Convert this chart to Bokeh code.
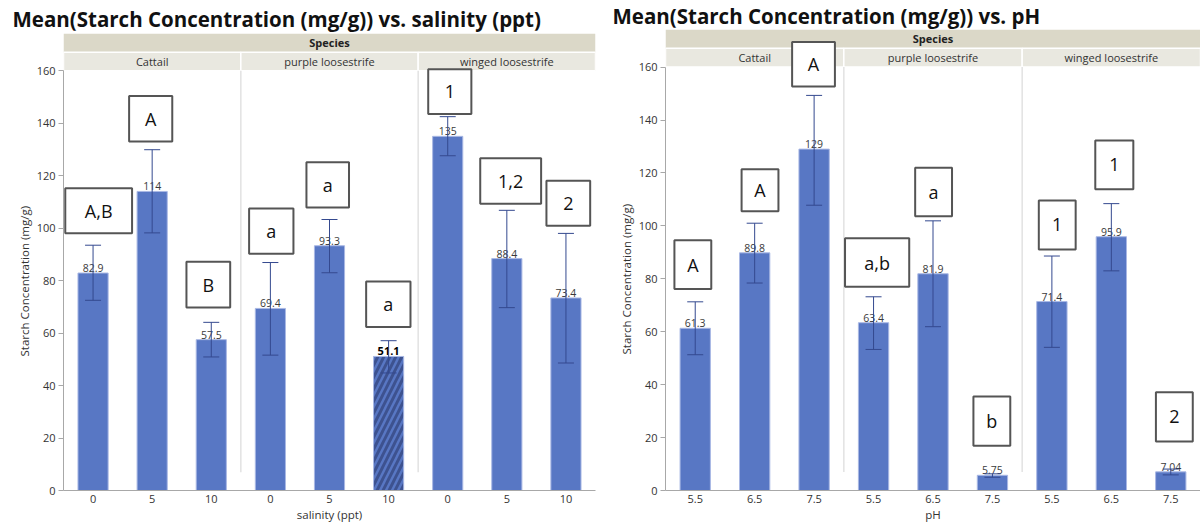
from bokeh.plotting import figure
from bokeh.models import FixedTicker, Range1d, ColumnDataSource, Whisker, TeeHead, Title
from bokeh.layouts import row
from bokeh.embed import file_html
from bokeh.resources import INLINE
from bokeh.core.properties import value

# ---------------- data ----------------
species = ["Cattail", "purple loosestrife", "winged loosestrife"]

salinity_levels = ["0", "5", "10"]
sal_mean = [82.9, 114, 57.5, 69.4, 93.3, 51.1, 135, 88.4, 73.4]
sal_labels = ["82.9", "114", "57.5", "69.4", "93.3", "51.1", "135", "88.4", "73.4"]
sal_err_low = [72.5, 98.2, 50.9, 51.6, 83.0, 44.8, 127.6, 69.7, 48.6]
sal_err_high = [93.5, 129.9, 64.1, 86.9, 103.3, 57.1, 142.5, 106.8, 98.0]
sal_letters = ["A,B", "A", "B", "a", "a", "a", "1", "1,2", "2"]

ph_levels = ["5.5", "6.5", "7.5"]
ph_mean = [61.3, 89.8, 129, 63.4, 81.9, 5.75, 71.4, 95.9, 7.04]
ph_labels = ["61.3", "89.8", "129", "63.4", "81.9", "5.75", "71.4", "95.9", "7.04"]
ph_err_low = [51.3, 78.4, 107.8, 53.3, 61.9, 5.0, 54.1, 83.0, 5.9]
ph_err_high = [71.3, 101.0, 149.3, 73.2, 101.9, 6.3, 88.6, 108.4, 8.1]
ph_letters = ["A", "A", "A", "a,b", "a", "b", "1", "1", "2"]

y_ticks = [0, 20, 40, 60, 80, 100, 120, 140, 160]

# ---------------- layout of letter boxes (annotation placement) ----------------
sal_box_lr = [(0.03, 1.16), (1.11, 1.84), (2.08, 2.82), (3.14, 3.89), (4.11, 4.83),
              (5.12, 5.87), (6.17, 6.90), (7.05, 8.08), (8.17, 8.91)]
sal_box_bt = [(98.1, 115.2), (133.0, 150.4), (69.8, 87.2), (90.2, 107.5), (107.9, 125.1),
              (62.3, 79.7), (143.5, 160.6), (109.3, 126.6), (100.9, 118.1)]
ph_box_lr = [(0.15, 0.77), (1.28, 1.90), (2.13, 2.85), (3.02, 4.10), (4.20, 4.82),
             (5.18, 5.80), (6.28, 6.90), (7.23, 7.87), (8.25, 8.87)]
ph_box_bt = [(76.1, 94.6), (105.5, 121.4), (152.7, 169.5), (77.0, 95.3), (103.6, 122.0),
             (16.9, 35.5), (91.1, 109.6), (113.8, 132.3), (18.5, 37.1)]

FONT = "Open Sans"
BAR_FILL = "#5877c4"
BAR_LINE = "#a9b8e4"
ERR = "#34498f"
TXT = "#333333"
AXIS = "#a8a8a8"
YTOP = 174.2


def make_chart(title_text, levels, xlabel, means, labels, lo, hi, letters,
               box_lr, box_bt, width, height, bl, br, bt, title_offset, title_standoff,
               ylabel_offset, hatched=None):
    n = len(means)
    xs = [i + 0.5 for i in range(n)]
    p = figure(width=width, height=height, output_backend="svg", toolbar_location=None,
               x_range=Range1d(0, n), y_range=Range1d(0, YTOP),
               min_border_left=bl, min_border_right=br, min_border_top=bt,
               min_border_bottom=0)
    p.title.text = title_text
    p.title.text_font = FONT
    p.title.text_font_size = "20.5px"
    p.title.text_font_style = "bold"
    p.title.text_color = "#111111"
    p.title.standoff = title_standoff
    p.title.offset = title_offset
    p.title.align = "left"
    p.xgrid.grid_line_color = None
    p.ygrid.grid_line_color = None
    p.outline_line_color = None
    p.background_fill_color = "white"
    p.border_fill_color = "white"

    # y axis (label added as a side title so it sits along the 0-160 plot area)
    ya = p.yaxis[0]
    ya.ticker = FixedTicker(ticks=y_ticks)
    ya.bounds = (0, 160)
    ya.major_label_text_font = FONT
    ya.major_label_text_font_size = "11px"
    ya.major_label_text_color = TXT
    ya.major_label_standoff = 3
    ya.major_tick_out = 5
    ya.major_tick_in = 0
    ya.minor_tick_out = 0
    ya.minor_tick_in = 0
    ya.axis_line_color = AXIS
    ya.major_tick_line_color = AXIS
    ylab = Title(text="Starch Concentration (mg/g)", align="left",
                 text_font=FONT, text_font_size="11.5px", text_font_style="normal",
                 text_color=TXT, standoff=4, offset=ylabel_offset)
    p.add_layout(ylab, "left")

    # x axis
    xa = p.xaxis[0]
    xa.ticker = FixedTicker(ticks=xs)
    xa.major_label_overrides = {x: levels[i % len(levels)] for i, x in enumerate(xs)}
    xa.axis_label = xlabel
    xa.axis_label_text_font = FONT
    xa.axis_label_text_font_size = "11.5px"
    xa.axis_label_text_font_style = "normal"
    xa.axis_label_text_color = TXT
    xa.axis_label_standoff = 1
    xa.major_label_text_font = FONT
    xa.major_label_text_font_size = "11px"
    xa.major_label_text_color = TXT
    xa.major_label_standoff = 4
    xa.major_tick_out = 0
    xa.major_tick_in = 0
    xa.minor_tick_out = 0
    xa.minor_tick_in = 0
    xa.axis_line_color = AXIS

    # header bands
    k = len(species)
    per = n // k
    band_mid = 167.1
    p.quad(left=[0], right=[n], bottom=[band_mid], top=[YTOP],
           fill_color="#dbd8c8", line_color=None)
    p.text(x=[n / 2], y=[(band_mid + YTOP) / 2], text=["Species"],
           text_font=value(FONT), text_font_size="11px", text_font_style="bold",
           text_align="center", text_baseline="middle", text_color="#222222")
    p.quad(left=[i * per for i in range(k)], right=[(i + 1) * per for i in range(k)],
           bottom=[160] * k, top=[band_mid] * k,
           fill_color="#e9e8e0", line_color="white", line_width=1.5)
    p.text(x=[i * per + per / 2 for i in range(k)], y=[(160 + band_mid) / 2] * k,
           text=species, text_font=value(FONT), text_font_size="11px",
           text_align="center", text_baseline="middle", text_color=TXT)

    # panel separators
    seps = [i * per for i in range(1, k)]
    p.segment(x0=seps, y0=[7] * len(seps), x1=seps, y1=[160] * len(seps),
              line_color="#e2e2e2", line_width=1.5)

    # bars
    idx_n = [i for i in range(n) if i != hatched]
    src = ColumnDataSource(dict(x=[xs[i] for i in idx_n], top=[means[i] for i in idx_n],
                                label=[labels[i] for i in idx_n]))
    p.vbar(x="x", top="top", bottom=0, width=0.51, fill_color=BAR_FILL,
           line_color=BAR_LINE, line_width=1, source=src)
    hs = None
    if hatched is not None:
        hs = ColumnDataSource(dict(x=[xs[hatched]], top=[means[hatched]],
                                   label=[labels[hatched]]))
        p.vbar(x="x", top="top", bottom=0, width=0.51, fill_color=BAR_FILL,
               line_color=BAR_LINE, line_width=1, hatch_pattern="/",
               hatch_color="#3d5290", hatch_weight=3, hatch_scale=12, source=hs)

    # error bars (drawn above bars)
    esrc = ColumnDataSource(dict(x=xs, lo=lo, hi=hi))
    wh = Whisker(source=esrc, base="x", upper="hi", lower="lo",
                 line_color=ERR, line_width=1, level="overlay",
                 upper_head=TeeHead(size=16, line_color=ERR, line_width=1),
                 lower_head=TeeHead(size=16, line_color=ERR, line_width=1))
    p.add_layout(wh)

    # value labels
    p.text(x="x", y="top", text="label", source=src, text_font=value(FONT),
           text_font_size="10.5px", text_align="center", text_baseline="bottom",
           y_offset=-1, text_color="#3a3a3a", level="overlay")
    if hs is not None:
        p.text(x="x", y="top", text="label", source=hs, text_font=value(FONT),
               text_font_size="11px", text_font_style="bold", text_align="center",
               text_baseline="bottom", y_offset=-1, text_color="#000000",
               level="overlay")

    # letter boxes
    p.quad(left=[a for a, b in box_lr], right=[b for a, b in box_lr],
           bottom=[a for a, b in box_bt], top=[b for a, b in box_bt],
           fill_color="white", line_color="#555555", line_width=2, level="overlay")
    p.text(x=[(a + b) / 2 for a, b in box_lr], y=[(a + b) / 2 for a, b in box_bt],
           text=letters, text_font=value(FONT), text_font_size="18px",
           text_align="center", text_baseline="middle", text_color="#111111",
           level="overlay")
    return p


p1 = make_chart("Mean(Starch Concentration (mg/g)) vs. salinity (ppt)", salinity_levels,
                "salinity (ppt)", sal_mean, sal_labels, sal_err_low, sal_err_high,
                sal_letters, sal_box_lr, sal_box_bt, width=606, height=524,
                bl=63, br=11, bt=33, title_offset=-51, title_standoff=2,
                ylabel_offset=134, hatched=5)
p2 = make_chart("Mean(Starch Concentration (mg/g)) vs. pH", ph_levels, "pH",
                ph_mean, ph_labels, ph_err_low, ph_err_high, ph_letters,
                ph_box_lr, ph_box_bt, width=594, height=528,
                bl=59, br=0, bt=29, title_offset=-53, title_standoff=0,
                ylabel_offset=136)
p2.margin = (-4, 0, 0, 0)

layout = row(p1, p2, spacing=0)
open("out.html", "w").write(file_html(layout, INLINE))
